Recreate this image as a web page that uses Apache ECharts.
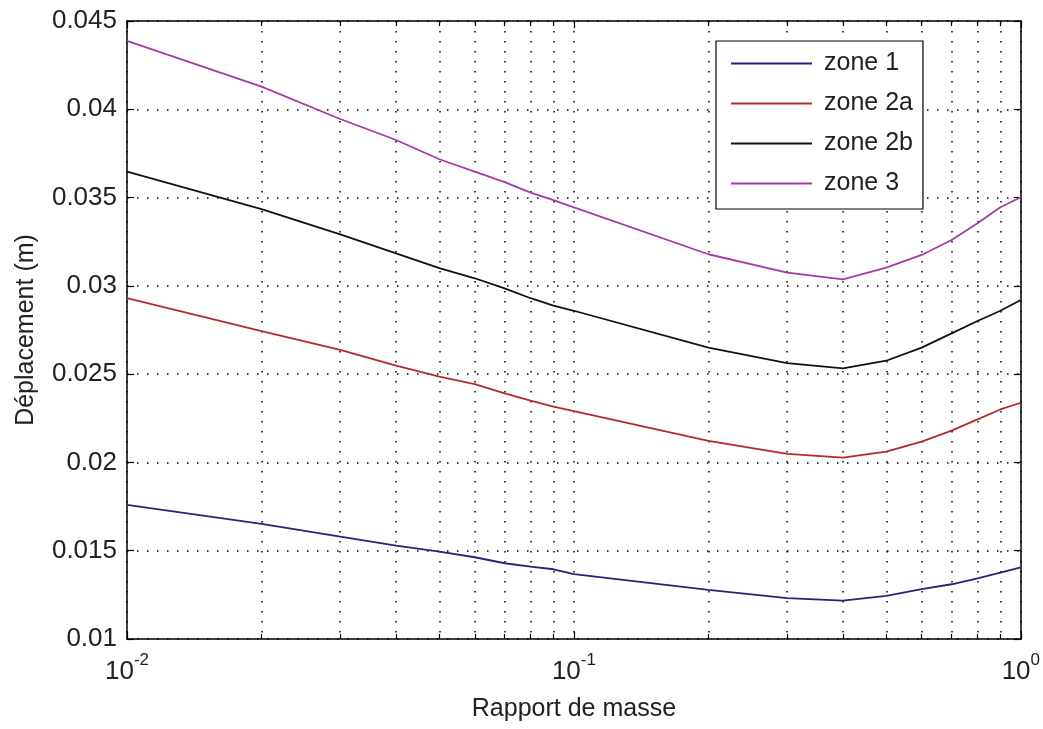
<!DOCTYPE html>
<html>
<head>
<meta charset="utf-8">
<script src="https://cdn.jsdelivr.net/npm/echarts@6/dist/echarts.min.js"></script>
<style>html,body{margin:0;padding:0;background:#fff;}#c{width:1043px;height:729px;}</style>
</head>
<body>
<div id="c"></div>
<script>
const xVals = [0.01,0.02,0.03,0.04,0.05,0.06,0.07,0.08,0.09,0.1,0.2,0.3,0.4,0.5,0.6,0.7,0.8,0.9,1.0];
const zone1  = [0.01759,0.01652,0.0158,0.01529,0.01495,0.01463,0.01429,0.0141,0.01395,0.01368,0.01278,0.01231,0.01217,0.01244,0.01282,0.0131,0.01344,0.01376,0.01406];
const zone2a = [0.0293,0.02744,0.02637,0.02548,0.02486,0.02444,0.02391,0.0235,0.02316,0.0229,0.02122,0.02048,0.02027,0.02061,0.02118,0.0218,0.02244,0.023,0.02338];
const zone2b = [0.03647,0.03435,0.03292,0.03184,0.031,0.03043,0.02986,0.0293,0.02888,0.02859,0.0265,0.02562,0.02533,0.02576,0.0265,0.02731,0.02801,0.02859,0.0292];
const zone3  = [0.04388,0.04128,0.03945,0.03826,0.03717,0.03647,0.03587,0.03528,0.03486,0.03445,0.03179,0.03075,0.03037,0.03103,0.03175,0.0326,0.03354,0.03445,0.03502];
const seriesNames = ['zone 1','zone 2a','zone 2b','zone 3'];
const seriesColors = ['#24247c','#b42a2a','#111111','#a63aa6'];
const seriesData = [zone1, zone2a, zone2b, zone3];

const tickFont = 'Liberation Sans';
const textFont = 'Liberation Sans';
const dotted = {show:true, lineStyle:{color:'#000', type:[1.5,8.5], width:1.5}};

function xAxisCfg(pos, showLabel){
  return {
    type:'log', logBase:10, min:0.01, max:1, position:pos,
    axisLine:{show:true, onZero:false, lineStyle:{color:'#000', width:1.5}},
    axisTick:{show:true, inside:true, length:7, lineStyle:{color:'#000', width:1.2}},
    minorTick:{show:true, splitNumber:9, length:5, lineStyle:{color:'#000', width:1.2}},
    splitLine: showLabel ? dotted : {show:false},
    minorSplitLine: showLabel ? dotted : {show:false},
    axisLabel: showLabel ? {
      show:true, margin:13,
      formatter: v => '{b|10}{s|' + Math.round(Math.log10(v)) + '}',
      rich:{
        b:{fontFamily:tickFont, fontSize:26, color:'#222', verticalAlign:'bottom'},
        s:{fontFamily:tickFont, fontSize:17, color:'#222', verticalAlign:'top', padding:[0,0,16,0]}
      }
    } : {show:false},
    name: showLabel ? 'Rapport de masse' : '',
    nameLocation:'middle', nameGap:58,
    nameTextStyle:{fontFamily:textFont, fontSize:25, color:'#222'}
  };
}
function yAxisCfg(pos, showLabel){
  return {
    type:'value', min:0.01, max:0.045, interval:0.005, position:pos,
    axisLine:{show:true, onZero:false, lineStyle:{color:'#000', width:1.5}},
    axisTick:{show:true, inside:true, length:7, lineStyle:{color:'#000', width:1.2}},
    splitLine: showLabel ? dotted : {show:false},
    axisLabel: showLabel ? {
      show:true, margin:10, fontFamily:tickFont, fontSize:26, color:'#222',
      formatter: v => String(parseFloat(v.toFixed(3)))
    } : {show:false},
    name: showLabel ? 'Déplacement (m)' : '',
    nameLocation:'middle', nameGap:88,
    nameTextStyle:{fontFamily:textFont, fontSize:25, color:'#222'}
  };
}

const chart = echarts.init(document.getElementById('c'), null, {renderer:'canvas'});
chart.setOption({
  backgroundColor:'#fff',
  animation:false,
  grid:{left:127, right:21, top:21, bottom:90, containLabel:false},
  xAxis:[xAxisCfg('bottom', true), xAxisCfg('top', false)],
  yAxis:[yAxisCfg('left', true), yAxisCfg('right', false)],
  legend:{
    orient:'vertical', left:716, top:41,
    backgroundColor:'#fff', borderColor:'#000', borderWidth:1.2,
    padding:[10,10,13,15], itemGap:15, itemWidth:81, itemHeight:14,
    textStyle:{fontFamily:textFont, fontSize:25, color:'#222', lineHeight:25, padding:[0,0,0,7]},
    data: seriesNames.map(n => ({name:n, icon:'path://M0,6 L81,6 L81,8 L0,8 Z'}))
  },
  series: seriesNames.map((n,i) => ({
    name:n, type:'line', xAxisIndex:0, yAxisIndex:0,
    symbol:'none', smooth:false,
    lineStyle:{color:seriesColors[i], width:1.8},
    itemStyle:{color:seriesColors[i]},
    data: xVals.map((x,j) => [x, seriesData[i][j]])
  }))
});
</script>
</body>
</html>
